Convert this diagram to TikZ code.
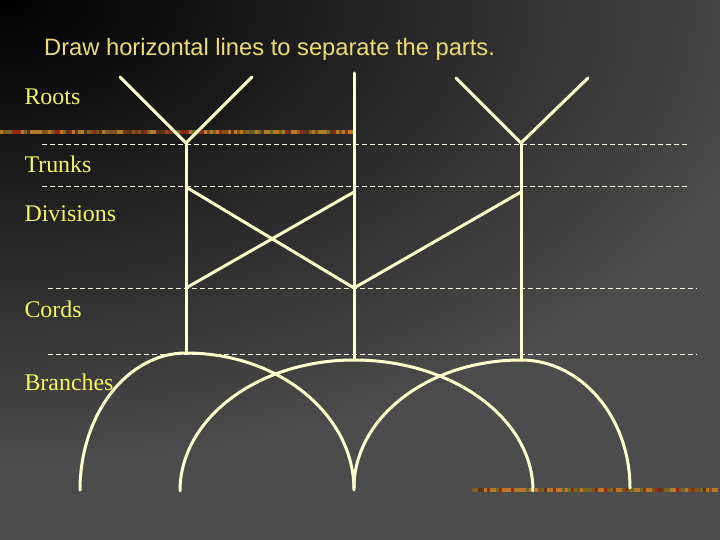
\documentclass[tikz,border=0pt]{standalone}
\usepackage{fontspec}
\setmainfont{Liberation Serif}
\newfontfamily\titlefont{Liberation Sans}
\usetikzlibrary{positioning}
\definecolor{bggray}{RGB}{76,76,76}
\definecolor{cream}{RGB}{255,255,204}
\definecolor{labelyellow}{RGB}{245,245,95}
\definecolor{titlegold}{RGB}{238,220,112}
\definecolor{sOrange}{RGB}{190,118,36}
\definecolor{sRed}{RGB}{150,40,20}
\definecolor{sBrown}{RGB}{132,80,28}
\definecolor{sOlive}{RGB}{112,104,38}
\definecolor{sGold}{RGB}{170,124,44}
\definecolor{sDark}{RGB}{96,50,24}
\pgfmathdeclarerandomlist{stripcols}{{sOrange}{sRed}{sBrown}{sOlive}{sGold}{sDark}}

\begin{document}
\begin{tikzpicture}[x=1bp,y=-1bp,
  part/.style={line width=3bp,cream,line cap=round},
  sep/.style={white!92!yellow,line width=0.9bp,dash pattern=on 5bp off 3bp},
  every node/.style={inner sep=0pt}]
% background
\useasboundingbox (0,0) rectangle (720,540);
\fill[bggray] (0,0) rectangle (720,540);
\begin{scope}
\clip (0,0) rectangle (720,540);
\shade[inner color=black,outer color=bggray] (0,0) ellipse [x radius=800,y radius=470];
\end{scope}
% textured strips
\pgfmathsetseed{42}
\foreach \x in {0,3,...,351}{\pgfmathrandomitem{\stripcol}{stripcols}\fill[\stripcol] (\x,130) rectangle ++(3,4.5);}
\foreach \x in {472,475,...,715}{\pgfmathrandomitem{\stripcol}{stripcols}\fill[\stripcol] (\x,488) rectangle ++(3,4);}
% separators
\draw[sep] (42,144) -- (690,144);
\draw[sep] (42,186) -- (690,186);
\draw[sep] (48,288) -- (697,288);
\draw[sep] (48,354) -- (697,354);
% labels
\node[anchor=base west,titlegold,font=\titlefont\fontsize{23.8}{28}\selectfont] (title) at (44,56) {Draw horizontal lines to separate the parts.};
\begin{scope}[every node/.style={anchor=base west,labelyellow,font=\fontsize{24}{28}\selectfont}]
\node (roots) at (21,105) {Roots};
\node (trunks) at (21,173) {Trunks};
\node (divs) at (21,222) {Divisions};
\node (cords) at (21,317) {Cords};
\node (branches) at (21,390) {Branches};
\end{scope}
% roots and trunks
\coordinate (lroot) at (186,143);
\coordinate (mtop) at (354,73);
\coordinate (rroot) at (521,143);
\draw[part] (120,77) -- (lroot) -- (252,77);
\draw[part] (456,78) -- (rroot) -- (588,78);
\draw[part] (lroot) -- (186,353);
\draw[part] (mtop) -- (354,360);
\draw[part] (rroot) -- (521,360);
% divisions
\draw[part] (186,187) -- (354,288);
\draw[part] (186,288) -- (354,192);
\draw[part] (354,288) -- (521,192);
% branches
\draw[part] (80,490) arc[start angle=180,end angle=270,x radius=106,y radius=137]
  arc[start angle=270,end angle=360,x radius=168,y radius=137];
\draw[part] (180,491) arc[start angle=180,end angle=270,x radius=174,y radius=131]
  arc[start angle=270,end angle=360,x radius=179,y radius=131];
\draw[part] (354,488) arc[start angle=180,end angle=270,x radius=167,y radius=128]
  arc[start angle=270,end angle=360,x radius=109,y radius=128];
\end{tikzpicture}
\end{document}
